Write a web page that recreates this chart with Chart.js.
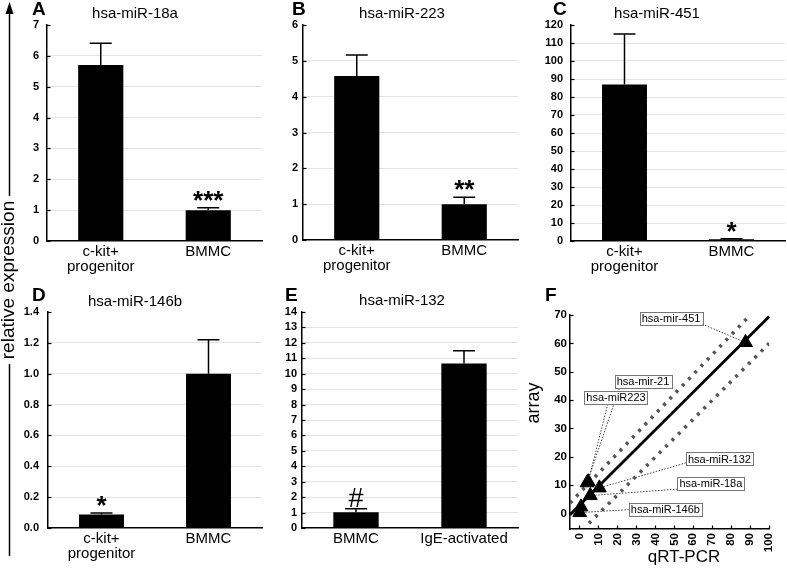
<!DOCTYPE html>
<html><head><meta charset="utf-8">
<script src="https://cdn.jsdelivr.net/npm/chart.js@4.4.1/dist/chart.umd.min.js"></script>
<style>
html,body{margin:0;padding:0;background:#fff;}
#wrap{position:relative;width:787px;height:572px;overflow:hidden;background:#fff;}
canvas{position:absolute;left:0;top:0;}
</style></head><body>
<div id="wrap">
<canvas id="cA" width="787" height="572"></canvas>
<canvas id="cB" width="787" height="572"></canvas>
<canvas id="cC" width="787" height="572"></canvas>
<canvas id="cD" width="787" height="572"></canvas>
<canvas id="cE" width="787" height="572"></canvas>
<canvas id="cF" width="787" height="572"></canvas>
</div>
<script>
const FONT = "'Liberation Sans', Arial, Helvetica, sans-serif";

// ---------- DATA ----------
const panelTitles = ['hsa-miR-18a', 'hsa-miR-223', 'hsa-miR-451', 'hsa-miR-146b', 'hsa-miR-132'];
const panelLetters = ['A', 'B', 'C', 'D', 'E', 'F'];
const catsProgenitor = [['c-kit+', 'progenitor'], 'BMMC'];
const catsActivation = ['BMMC', 'IgE-activated'];

const miR18aMean = [5.7, 1.0];
const miR18aErr  = [0.71, 0.08];
const miR18aSig  = ['', '***'];

const miR223Mean = [4.58, 1.0];
const miR223Err  = [0.58, 0.19];
const miR223Sig  = ['', '**'];

const miR451Mean = [87, 1.0];
const miR451Err  = [28, 0.3];
const miR451Sig  = ['', '*'];

const miR146bMean = [0.088, 1.0];
const miR146bErr  = [0.01, 0.22];
const miR146bSig  = ['*', ''];

const miR132Mean = [1.02, 10.67];
const miR132Err  = [0.22, 0.82];
const miR132Sig  = ['#', ''];

const yTicksA = [0, 1, 2, 3, 4, 5, 6, 7];
const yTicksB = [0, 1, 2, 3, 4, 5, 6];
const yTicksC = [0, 10, 20, 30, 40, 50, 60, 70, 80, 90, 100, 110, 120];
const yTicksD = [0, 0.2, 0.4, 0.6, 0.8, 1.0, 1.2, 1.4];
const yTicksE = [0, 1, 2, 3, 4, 5, 6, 7, 8, 9, 10, 11, 12, 13, 14];

// Panel F: qRT-PCR vs array
const corrNames = ['hsa-mir-451', 'hsa-mir-21', 'hsa-miR223', 'hsa-miR-132', 'hsa-miR-18a', '', 'hsa-miR-146b'];
const corrQPCR  = [87.5, 4.0, 4.6, 10.5, 5.7, 0.8, 0.1];
const corrArray = [60.3, 10.8, 11.2, 9.0, 6.3, 2.3, 0.3];
const fitLine   = [[-5, -0.5], [100, 69.5]];
const upperBand = [[-5, 3.7], [90, 70]];
const lowerBand = [[5, -3.5], [100, 60]];
const fXTicks = [0, 10, 20, 30, 40, 50, 60, 70, 80, 90, 100];
const fYTicks = [0, 10, 20, 30, 40, 50, 60, 70];

// ---------- LAYOUT ----------
const W = 787, H = 572, YW = 45, XH = 45;
const areas = {
  A: {l: 47, r: 262, t: 25, b: 241, pad: 8},
  B: {l: 303, r: 518, t: 25, b: 240, pad: 5},
  C: {l: 571, r: 785, t: 25, b: 241, pad: 8},
  D: {l: 48, r: 262, t: 312, b: 528, pad: 9},
  E: {l: 302, r: 518, t: 312, b: 528, pad: 5},
  F: {l: 570, r: 780, t: 315, b: 529, pad: 3}
};
// label boxes of panel F (data-space centre + leader anchor fraction on box)
const fLabelLayout = [
  {cx: 48.25, cy: 68.6, ax: 1.0, ay: 0.9},
  {cx: 33.5, cy: 46.4, ax: 0.08, ay: 1.0},
  {cx: 19.25, cy: 40.9, ax: 0.37, ay: 1.0},
  {cx: 73.75, cy: 19.2, ax: 0.0, ay: 0.8},
  {cx: 69.25, cy: 10.4, ax: 0.0, ay: 0.9},
  null,
  {cx: 45.25, cy: 1.55, ax: 0.0, ay: 0.55}
];

Chart.defaults.font.family = FONT;
Chart.defaults.color = '#000';

function innerTicks(axisKeys) {
  return {
    id: 'innerTicks',
    afterDraw(chart) {
      const ctx = chart.ctx, a = chart.chartArea;
      ctx.save(); ctx.strokeStyle = '#000'; ctx.lineWidth = 1.2;
      if (axisKeys.includes('y')) {
        const s = chart.scales.y;
        s.ticks.forEach(t => {
          const y = Math.round(s.getPixelForValue(t.value)) + 0.5;
          ctx.beginPath(); ctx.moveTo(a.left, y); ctx.lineTo(a.left + 3.5, y); ctx.stroke();
        });
      }
      if (axisKeys.includes('x')) {
        const s = chart.scales.x;
        s.ticks.forEach(t => {
          const x = Math.round(s.getPixelForValue(t.value)) + 0.5;
          ctx.beginPath(); ctx.moveTo(x, a.bottom); ctx.lineTo(x, a.bottom - 3.5); ctx.stroke();
        });
      }
      ctx.restore();
    }
  };
}

function errPlugin(mean, err, sig) {
  return {
    id: 'errbars',
    afterDatasetsDraw(chart) {
      const ctx = chart.ctx, ys = chart.scales.y, meta = chart.getDatasetMeta(0);
      ctx.save();
      ctx.strokeStyle = '#000'; ctx.lineWidth = 1.5; ctx.fillStyle = '#000';
      meta.data.forEach((bar, i) => {
        const x = bar.x;
        const y0 = ys.getPixelForValue(mean[i]);
        const y1 = ys.getPixelForValue(mean[i] + err[i]);
        ctx.beginPath();
        ctx.moveTo(x, y0); ctx.lineTo(x, y1);
        ctx.moveTo(x - 11, y1); ctx.lineTo(x + 11, y1);
        ctx.stroke();
        if (sig[i]) {
          ctx.textAlign = 'center'; ctx.textBaseline = 'alphabetic';
          if (sig[i] === '#') {
            ctx.font = '27px ' + FONT;
            ctx.fillText(sig[i], x, y1 - 2);
          } else {
            ctx.font = 'bold 26px ' + FONT;
            ctx.fillText(sig[i], x, y1 + 1);
          }
        }
      });
      ctx.restore();
    }
  };
}

function barPanel(id, key, cats, mean, err, sig, yTicks, decimals) {
  const a = areas[key];
  const ymax = yTicks[yTicks.length - 1];
  return new Chart(document.getElementById(id), {
    type: 'bar',
    data: {labels: cats, datasets: [{data: mean, backgroundColor: '#000', borderWidth: 0,
      barPercentage: 1, categoryPercentage: 0.42}]},
    options: {
      responsive: false, animation: false, devicePixelRatio: 1,
      layout: {padding: {left: a.l - YW, top: a.t, right: W - a.r, bottom: H - a.b - XH}},
      plugins: {legend: {display: false}, tooltip: {enabled: false}, title: {display: false}},
      scales: {
        x: {
          afterFit: s => { s.height = XH; },
          grid: {display: false, drawTicks: false},
          border: {color: '#000', width: 1.5},
          ticks: {color: '#000', font: {family: FONT, size: 15, lineHeight: 1.0}, padding: 3,
            maxRotation: 0, minRotation: 0, autoSkip: false}
        },
        y: {
          min: 0, max: ymax,
          afterFit: s => { s.width = YW; },
          afterBuildTicks: s => { s.ticks = yTicks.map(v => ({value: v})); },
          grid: {drawTicks: false,
            color: c => (c.tick && (c.tick.value === 0 || c.tick.value === ymax)) ? 'rgba(0,0,0,0)' : '#e4e4e4'},
          border: {color: '#000', width: 1.5},
          ticks: {color: '#000', padding: a.pad, autoSkip: false, font: {family: FONT, size: 11, weight: 'bold'},
            callback: v => decimals ? Number(v).toFixed(decimals) : v}
        }
      }
    },
    plugins: [errPlugin(mean, err, sig), innerTicks(['y'])]
  });
}

// decorations: titles, panel letters, left axis label
const decor = {
  id: 'decor',
  afterDraw(chart) {
    const ctx = chart.ctx;
    ctx.save();
    ctx.fillStyle = '#000';
    const letterPos = [[32, 15], [292, 15], [553, 15], [32, 301], [285, 301], [545, 301]];
    ctx.font = 'bold 19px ' + FONT; ctx.textAlign = 'left'; ctx.textBaseline = 'alphabetic';
    panelLetters.forEach((L, i) => ctx.fillText(L, letterPos[i][0], letterPos[i][1]));
    const titlePos = [[135, 18], [402, 18], [657, 18], [135, 306], [402, 305]];
    ctx.font = '15px ' + FONT; ctx.textAlign = 'center';
    panelTitles.forEach((t, i) => ctx.fillText(t, titlePos[i][0], titlePos[i][1]));
    ctx.font = '17px ' + FONT;
    ctx.textBaseline = 'middle';
    ctx.fillText('qRT-PCR', 684, 557);
    ctx.save(); ctx.translate(534, 403); ctx.rotate(-Math.PI / 2);
    ctx.font = '18px ' + FONT; ctx.fillText('array', 0, 0); ctx.restore();
    ctx.save(); ctx.translate(9, 280); ctx.rotate(-Math.PI / 2);
    ctx.font = '19px ' + FONT; ctx.textAlign = 'center'; ctx.textBaseline = 'middle';
    ctx.fillText('relative expression', 0, 0); ctx.restore();
    ctx.strokeStyle = '#000'; ctx.lineWidth = 1.5;
    ctx.beginPath(); ctx.moveTo(9.5, 12); ctx.lineTo(9.5, 196);
    ctx.moveTo(9.5, 364); ctx.lineTo(9.5, 556); ctx.stroke();
    ctx.beginPath(); ctx.moveTo(9.5, 2); ctx.lineTo(5.5, 14); ctx.lineTo(13.5, 14); ctx.closePath(); ctx.fill();
    ctx.restore();
  }
};

const chA = barPanel('cA', 'A', catsProgenitor, miR18aMean, miR18aErr, miR18aSig, yTicksA, 0);
chA.config.plugins.push(decor);
barPanel('cB', 'B', catsProgenitor, miR223Mean, miR223Err, miR223Sig, yTicksB, 0);
barPanel('cC', 'C', catsProgenitor, miR451Mean, miR451Err, miR451Sig, yTicksC, 0);
barPanel('cD', 'D', catsProgenitor, miR146bMean, miR146bErr, miR146bSig, yTicksD, 1);
barPanel('cE', 'E', catsActivation, miR132Mean, miR132Err, miR132Sig, yTicksE, 0);
chA.update();

// ---------- PANEL F ----------
const labelPlugin = {
  id: 'fLabels',
  beforeDatasetsDraw(chart) {
    const ctx = chart.ctx, xs = chart.scales.x, ys = chart.scales.y;
    ctx.save();
    ctx.font = '11px ' + FONT;
    ctx.strokeStyle = '#444'; ctx.lineWidth = 1; ctx.setLineDash([1.5, 1.5]);
    corrNames.forEach((name, i) => {
      const L = fLabelLayout[i]; if (!name || !L) return;
      const w = ctx.measureText(name).width + 4, h = 13;
      const cx = xs.getPixelForValue(L.cx), cy = ys.getPixelForValue(L.cy);
      const sx = cx - w / 2 + L.ax * w, sy = cy - h / 2 + L.ay * h;
      const px = xs.getPixelForValue(corrQPCR[i]), py = ys.getPixelForValue(corrArray[i]);
      ctx.beginPath(); ctx.moveTo(sx, sy); ctx.lineTo(px, py); ctx.stroke();
    });
    ctx.restore();
  },
  afterDatasetsDraw(chart) {
    const ctx = chart.ctx, xs = chart.scales.x, ys = chart.scales.y;
    ctx.save();
    ctx.font = '11px ' + FONT; ctx.textAlign = 'center'; ctx.textBaseline = 'middle';
    corrNames.forEach((name, i) => {
      const L = fLabelLayout[i]; if (!name || !L) return;
      const w = ctx.measureText(name).width + 4, h = 13;
      const cx = xs.getPixelForValue(L.cx), cy = ys.getPixelForValue(L.cy);
      ctx.fillStyle = '#fff'; ctx.fillRect(cx - w / 2, cy - h / 2, w, h);
      ctx.strokeStyle = '#777'; ctx.lineWidth = 1;
      ctx.strokeRect(Math.round(cx - w / 2) + 0.5, Math.round(cy - h / 2) + 0.5, Math.round(w), h);
      ctx.fillStyle = '#000'; ctx.fillText(name, cx, cy + 0.5);
    });
    ctx.restore();
  }
};

const aF = areas.F;
const toPts = arr => arr.map(p => ({x: p[0], y: p[1]}));
new Chart(document.getElementById('cF'), {
  type: 'scatter',
  data: {datasets: [
    {type: 'scatter', data: corrQPCR.map((x, i) => ({x: x, y: corrArray[i]})), pointStyle: 'triangle',
      pointRadius: 8, backgroundColor: '#000', borderColor: '#000', borderWidth: 1, order: 0},
    {type: 'line', data: toPts(fitLine), borderColor: '#000', borderWidth: 2.8, pointRadius: 0, order: 1, clip: false},
    {type: 'line', data: toPts(upperBand), borderColor: '#555', borderWidth: 3.5, borderDash: [3, 6],
      pointRadius: 0, order: 2},
    {type: 'line', data: toPts(lowerBand), borderColor: '#555', borderWidth: 3.5, borderDash: [3, 6],
      pointRadius: 0, order: 2}
  ]},
  options: {
    responsive: false, animation: false, devicePixelRatio: 1,
    layout: {padding: {left: aF.l - YW, top: aF.t, right: W - aF.r, bottom: H - aF.b - 30}},
    plugins: {legend: {display: false}, tooltip: {enabled: false}},
    scales: {
      x: {
        type: 'linear', min: -5, max: 100,
        afterFit: s => { s.height = 30; },
        afterBuildTicks: s => { s.ticks = fXTicks.map(v => ({value: v})); },
        grid: {display: false, drawTicks: false},
        border: {color: '#000', width: 1.5},
        ticks: {color: '#000', padding: 4, minRotation: 90, maxRotation: 90, autoSkip: false,
          font: {family: FONT, size: 11.5, weight: 'bold'}}
      },
      y: {
        type: 'linear', min: -5.5, max: 70,
        afterFit: s => { s.width = YW; },
        afterBuildTicks: s => { s.ticks = fYTicks.map(v => ({value: v})); },
        grid: {display: false, drawTicks: false},
        border: {color: '#000', width: 1.5},
        ticks: {color: '#000', padding: aF.pad, autoSkip: false, font: {family: FONT, size: 11.5, weight: 'bold'}}
      }
    }
  },
  plugins: [labelPlugin, innerTicks(['x', 'y'])]
});
</script>
</body></html>
